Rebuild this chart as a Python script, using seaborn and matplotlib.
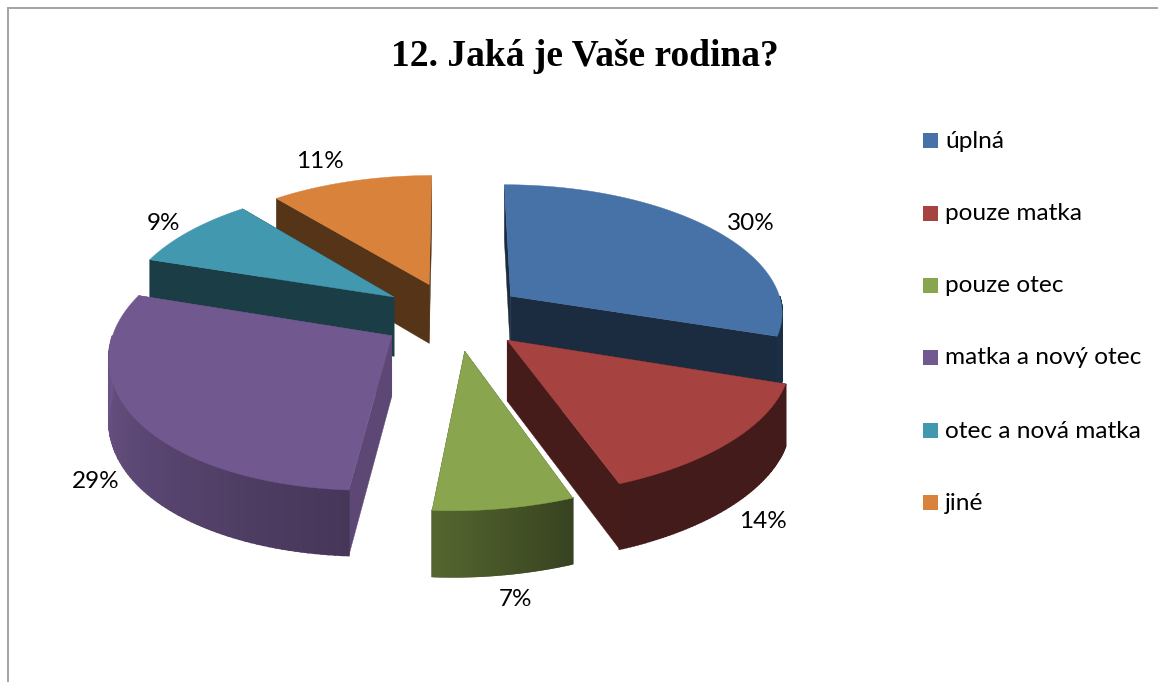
import numpy as np
import matplotlib
matplotlib.use("Agg")
import matplotlib.pyplot as plt
from matplotlib.patches import Polygon, Rectangle
from matplotlib.colors import to_rgb
import seaborn as sns

title = "12. Jaká je Vaše rodina?"
categories = ["úplná", "pouze matka", "pouze otec", "matka a nový otec", "otec a nová matka", "jiné"]
percent = [30, 14, 7, 29, 9, 11]

sns.set_theme(style="white")
plt.rcParams["font.family"] = ["Lato", "DejaVu Sans"]
palette = sns.color_palette(["#4672a8", "#a64340", "#89a54e", "#71588f", "#4198af", "#d8823c"])

# Projection of the tilted pie onto the pixel-sized axes
CX, CY = 453, 316
RX, RY = 274, 130
PERSP = 0.125
DEPTH = 60
EXPLODE = 0.265
SKEW = 14

# Shading of the side walls
RADIAL_SHADE = [0.38, 0.42, 0.45, 0.82, 0.40, 0.40]
ARC_ANGLES = [90, 158, 184, 270, 360]
ARC_SHADES = [0.40, 0.40, 0.62, 0.95, 0.95]
DRAW_ORDER = [5, 4, 0, 3, 1, 2]
LABEL_XY = [(751, 224), (763, 522), (515, 600), (96, 481), (163, 223), (320, 162)]
LEGEND_Y = [141, 214, 286, 358, 431, 503]


def project(a, r, off, drop=0.0):
    """Plane point at clock angle a (deg) and radius r, pushed out along off (deg)."""
    ca = np.cos(np.radians(a))
    x = r * np.sin(np.radians(a)) + EXPLODE * np.sin(np.radians(off))
    y = -r * ca - EXPLODE * np.cos(np.radians(off))
    s = 1 / (1 - PERSP * y)
    return CX + x * RX * s - SKEW * r * min(ca, 0) ** 2, CY + y * RY * s + drop * DEPTH * (1 + 0.08 * y)


def shaded(color, f):
    return tuple(min(1, c * f) for c in to_rgb(color))


fig = plt.figure(figsize=(11.58, 6.82), dpi=100, facecolor="white")
ax = fig.add_axes([0, 0, 1, 1])
ax.set_xlim(0, 1158)
ax.set_ylim(682, 0)
ax.axis("off")

# Chart-area border, cropped on the right and bottom
ax.plot([7.5, 7.5, 1158], [682, 8, 8], color="#a3a3a3", lw=1.4, solid_joinstyle="miter")

edges = np.concatenate([[0], np.cumsum(percent)]) * 3.6
for i in DRAW_ORDER:
    a0, a1 = edges[i], edges[i + 1]
    mid = (a0 + a1) / 2
    col = palette[i]
    arc = np.linspace(a0, a1, 90)

    # Cut faces
    for a in (a0, a1):
        quad = [project(a, 0, mid), project(a, 1, mid), project(a, 1, mid, 1), project(a, 0, mid, 1)]
        c = shaded(col, RADIAL_SHADE[i])
        ax.add_patch(Polygon(quad, fc=c, ec=c, lw=0.3))

    # Curved outer wall, only its front half can be seen
    if a1 > 90 and a0 < 270:
        front = np.linspace(max(a0, 90), min(a1, 270), 70)
        for b0, b1 in zip(front[:-1], front[1:]):
            c = shaded(col, np.interp((b0 + b1) / 2, ARC_ANGLES, ARC_SHADES))
            quad = [project(b0, 1, mid), project(b1, 1, mid), project(b1, 1, mid, 1), project(b0, 1, mid, 1)]
            ax.add_patch(Polygon(quad, fc=c, ec=c, lw=1.2))

    # Top surface
    top = [project(0, 0, mid)] + [project(b, 1, mid) for b in arc]
    ax.add_patch(Polygon(top, fc=col, ec=col, lw=0.3))

for v, (x, y) in zip(percent, LABEL_XY):
    ax.text(x, y, f"{v}%", ha="center", va="center", fontsize=17.5, color="black")

for name, col, y in zip(categories, palette, LEGEND_Y):
    ax.add_patch(Rectangle((923, y - 8.5), 15, 15, fc=col, ec="none"))
    ax.text(945, y, name, ha="left", va="center", fontsize=17.6, color="black")

ax.text(585, 57, title, ha="center", va="center", fontsize=27, fontweight="bold",
        family=["Liberation Serif"], color="black")

fig.savefig("out.png", dpi=100)
